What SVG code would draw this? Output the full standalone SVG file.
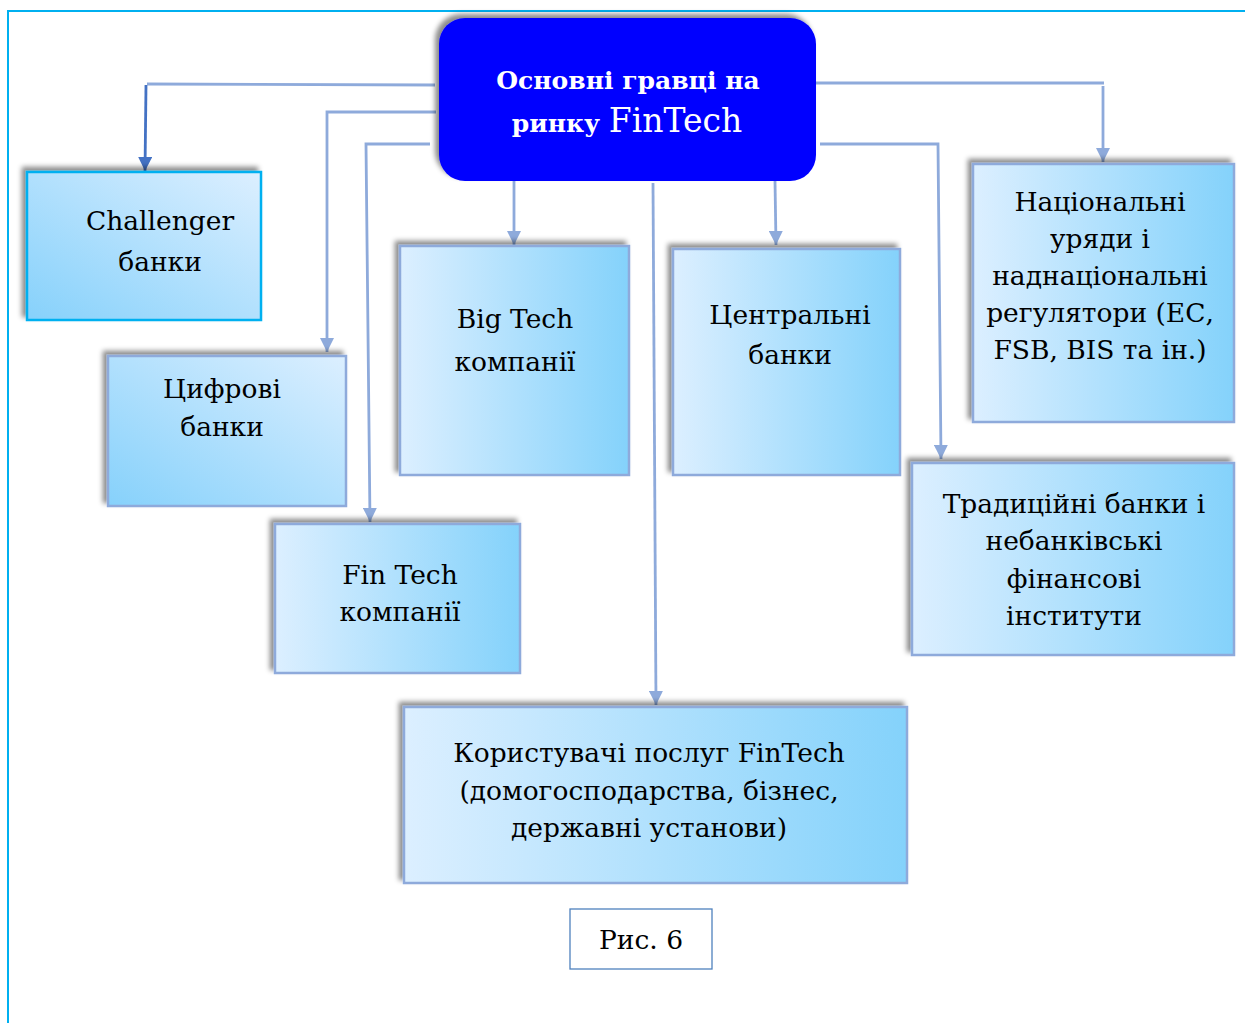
<svg xmlns="http://www.w3.org/2000/svg" width="1245" height="1023" viewBox="0 0 1245 1023">
<defs>
<linearGradient id="gh" x1="0" y1="0" x2="1" y2="0"><stop offset="0" stop-color="#dcefff"/><stop offset="1" stop-color="#84d2fb"/></linearGradient>
<linearGradient id="gd" x1="0" y1="1" x2="1" y2="0"><stop offset="0" stop-color="#86d1fb"/><stop offset="1" stop-color="#dcefff"/></linearGradient>
<filter id="sh" x="-10%" y="-10%" width="120%" height="120%">
<feGaussianBlur in="SourceAlpha" stdDeviation="2.5"/>
<feOffset dx="-4" dy="-4" result="b"/>
<feFlood flood-color="#000" flood-opacity="0.45"/>
<feComposite in2="b" operator="in"/>
<feMerge><feMergeNode/><feMergeNode in="SourceGraphic"/></feMerge>
</filter>
<marker id="ar" viewBox="0 0 10 10" refX="10" refY="5" markerWidth="5" markerHeight="5" orient="auto" markerUnits="strokeWidth"><path d="M0,0 L10,5 L0,10 z" fill="#8eaadb"/></marker>
<marker id="ar2" viewBox="0 0 10 10" refX="10" refY="5" markerWidth="5" markerHeight="5" orient="auto" markerUnits="strokeWidth"><path d="M0,0 L10,5 L0,10 z" fill="#4472c4"/></marker>
<style>
.t{font-family:"DejaVu Serif","Liberation Serif",serif;font-size:26.5px;fill:#000;text-anchor:middle}
.bx{stroke:#8eaadb;stroke-width:2.5;filter:url(#sh)}
.c{fill:none;stroke:#8eaadb;stroke-width:2.8}
</style>
</defs>
<rect x="8" y="11" width="1250" height="1030" fill="#fff" stroke="#00b0f0" stroke-width="2"/>
<g id="connectors">
<polyline class="c" points="435,85 147,84"/>
<polyline points="146,85 145,171" fill="none" stroke="#4472c4" stroke-width="2.8" marker-end="url(#ar2)"/>
<polyline class="c" points="436,112 327,112 327,352" marker-end="url(#ar)"/>
<polyline class="c" points="430,144 366,144 370,522" marker-end="url(#ar)"/>
<polyline class="c" points="514,181 514,245" marker-end="url(#ar)"/>
<polyline class="c" points="653,183 656,705" marker-end="url(#ar)"/>
<polyline class="c" points="775,181 776,245" marker-end="url(#ar)"/>
<polyline class="c" points="816,83 1104,83"/>
<polyline class="c" points="1103,86 1103,162" marker-end="url(#ar)"/>
<polyline class="c" points="820,144 938,144 941,459" marker-end="url(#ar)"/>
</g>
<g id="center">
<rect x="439" y="18" width="377" height="163" rx="26" fill="#0000ff" filter="url(#sh)"/>
<text x="628" y="89" font-family="DejaVu Serif, Liberation Serif, serif" font-size="25" font-weight="bold" fill="#fff" text-anchor="middle">Основні  гравці на</text>
<text x="627" y="132" font-family="DejaVu Serif, Liberation Serif, serif" fill="#fff" text-anchor="middle"><tspan font-size="25" font-weight="bold">ринку  </tspan><tspan font-size="33">FinTech</tspan></text>
</g>
<g id="challenger">
<rect x="27" y="172" width="234" height="148" fill="url(#gd)" stroke="#00b0f0" stroke-width="2.5" filter="url(#sh)"/>
<text class="t" x="160" y="230">Challenger</text>
<text class="t" x="160" y="271">банки</text>
</g>
<g id="digital">
<rect class="bx" x="108" y="356" width="238" height="150" fill="url(#gd)"/>
<text class="t" x="222" y="398">Цифрові</text>
<text class="t" x="222" y="436">банки</text>
</g>
<g id="fintech">
<rect class="bx" x="275" y="524" width="245" height="149" fill="url(#gh)"/>
<text class="t" x="400" y="584">Fin Tech</text>
<text class="t" x="400" y="621">компанії</text>
</g>
<g id="bigtech">
<rect class="bx" x="400" y="246" width="229" height="229" fill="url(#gh)"/>
<text class="t" x="515" y="328">Big Tech</text>
<text class="t" x="515" y="371">компанії</text>
</g>
<g id="central">
<rect class="bx" x="673" y="249" width="227" height="226" fill="url(#gh)"/>
<text class="t" x="790" y="324">Центральні</text>
<text class="t" x="790" y="364">банки</text>
</g>
<g id="national">
<rect class="bx" x="973" y="164" width="261" height="258" fill="url(#gh)"/>
<text class="t" x="1100" y="211">Національні</text>
<text class="t" x="1100" y="248">уряди і</text>
<text class="t" x="1100" y="285">наднаціональні</text>
<text class="t" x="1100" y="322">регулятори (ЕС,</text>
<text class="t" x="1100" y="359">FSB, BIS та ін.)</text>
</g>
<g id="traditional">
<rect class="bx" x="912" y="463" width="322" height="192" fill="url(#gh)"/>
<text class="t" x="1074" y="513">Традиційні банки і</text>
<text class="t" x="1074" y="550">небанківські</text>
<text class="t" x="1074" y="588">фінансові</text>
<text class="t" x="1074" y="625">інститути</text>
</g>
<g id="users">
<rect class="bx" x="404" y="707" width="503" height="176" fill="url(#gh)"/>
<text class="t" x="649" y="762">Користувачі послуг FinTech</text>
<text class="t" x="649" y="800">(домогосподарства, бізнес,</text>
<text class="t" x="649" y="837">державні установи)</text>
</g>
<g id="caption">
<rect x="570" y="909" width="142" height="60" fill="#fff" stroke="#4f81bd" stroke-width="1.3"/>
<text class="t" x="641" y="949">Рис. 6</text>
</g>
</svg>
